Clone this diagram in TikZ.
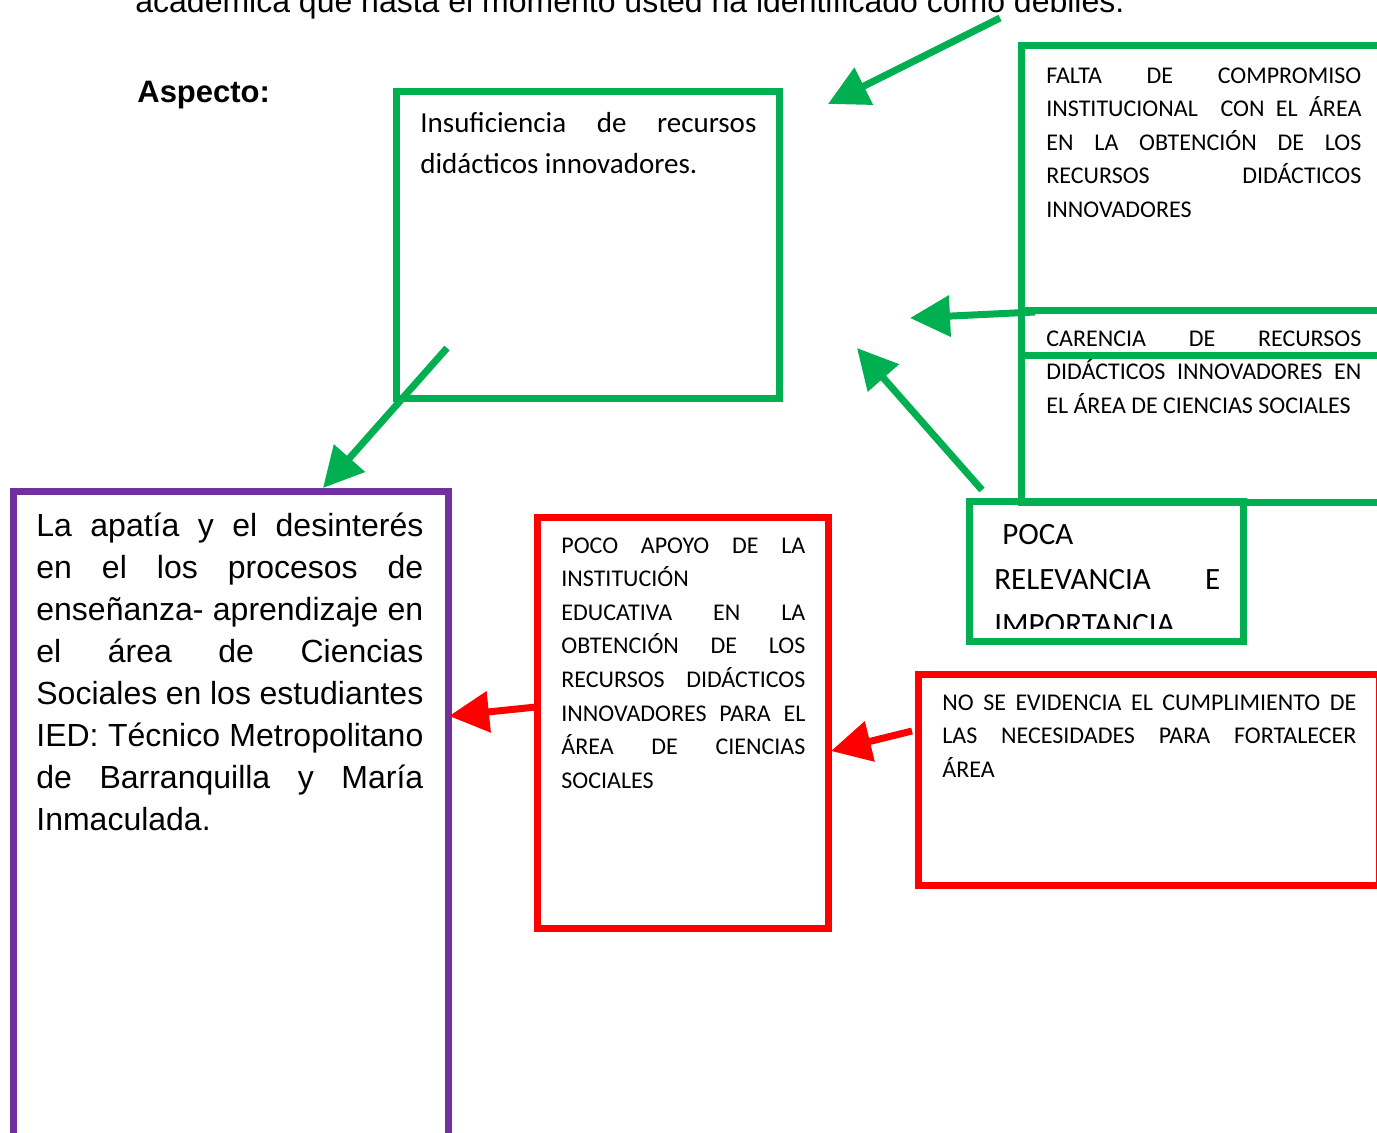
\documentclass[tikz,border=0pt]{standalone}
\usepackage{fontspec}
\setmainfont{Carlito}
\newfontfamily\arialfont{Liberation Sans}
\usetikzlibrary{arrows.meta}

\definecolor{boxgreen}{RGB}{0,176,80}
\definecolor{boxred}{RGB}{255,0,0}
\definecolor{boxpurple}{RGB}{112,48,160}

\hyphenpenalty=10000
\exhyphenpenalty=10000
\hbadness=10000

\tikzset{
  every picture/.style={line width=0.75pt},
  gbox/.style={draw=boxgreen, line width=7pt, inner sep=0pt, outer sep=0pt, anchor=north west},
  rbox/.style={draw=boxred, line width=7pt, inner sep=0pt, outer sep=0pt, anchor=north west},
  pbox/.style={draw=boxpurple, line width=7pt, inner sep=0pt, outer sep=0pt, anchor=north west},
  txt/.style={anchor=base west, inner sep=0pt},
  capstxt/.style={txt, font=\fontsize{24}{33.6}\selectfont},
  garrow/.style={draw=boxgreen, line width=7pt, -{Triangle[length=40pt,width=40pt]}},
  rarrow/.style={draw=boxred, line width=7pt, -{Triangle[length=40pt,width=40pt]}}
}

\begin{document}
\begin{tikzpicture}[x=1pt,y=1pt,yscale=-1,xscale=1]
            \useasboundingbox[line width=0pt] (0,0) rectangle (1377,1133);
            \clip (0,0) rectangle (1377,1133);

            % Text Node
            \node[txt, font=\arialfont\fontsize{32}{36}\selectfont] (pregunta) at (135,12) {académica que hasta el momento usted ha identificado como débiles.};
            % Text Node
            \node[txt, font=\arialfont\bfseries\fontsize{31}{36}\selectfont] (aspecto) at (137,102) {Aspecto:};

            %Shape: Rectangle [insuficiencia]
            \node[gbox, minimum width=383, minimum height=307] (insuf) at (396,91) {};
            %Shape: Rectangle [falta]
            \node[gbox, minimum width=370, minimum height=310] (falta) at (1021.5,45.5) {};
            %Shape: Rectangle [carencia]
            \node[gbox, minimum width=370, minimum height=192] (carencia) at (1021.5,310) {};
            %Shape: Rectangle [poca]
            \node[gbox, minimum width=274, minimum height=140] (poca) at (969,501) {};
            %Shape: Rectangle [poco apoyo]
            \node[rbox, minimum width=291, minimum height=411] (poco) at (537,517) {};
            %Shape: Rectangle [no se evidencia]
            \node[rbox, minimum width=461, minimum height=211] (nose) at (918,674) {};
            %Shape: Rectangle [apatia]
            \node[pbox, minimum width=435, minimum height=680] (apatia) at (13,491) {};

            % Text Node
            \node[txt, font=\fontsize{29}{41}\selectfont] (insuftxt) at (420,132) {\parbox[t]{336pt}{Insuficiencia de recursos\linebreak didácticos innovadores.}};
            % Text Node
            \node[capstxt] (faltatxt) at (1046,83) {\parbox[t]{315pt}{FALTA DE COMPROMISO\linebreak INSTITUCIONAL \ CON EL ÁREA\linebreak EN LA OBTENCIÓN DE LOS\linebreak RECURSOS DIDÁCTICOS\linebreak INNOVADORES}};
            % Text Node
            \node[capstxt] (carenciatxt) at (1046,346) {\parbox[t]{315pt}{CARENCIA DE RECURSOS\linebreak DIDÁCTICOS INNOVADORES EN\linebreak EL ÁREA DE CIENCIAS SOCIALES}};
            % Text Node (cut by the box)
            \begin{scope}
              \clip (972.5,504.5) rectangle (1239.5,628);
              \node[txt, font=\fontsize{31}{45}\selectfont] (pocatxt) at (994,544) {\parbox[t]{226pt}{\hspace*{8pt}POCA\\ RELEVANCIA E\linebreak IMPORTANCIA}};
            \end{scope}
            % Text Node
            \node[capstxt] (pocotxt) at (561,553) {\parbox[t]{244pt}{POCO APOYO DE LA\linebreak INSTITUCIÓN\\ EDUCATIVA EN LA\linebreak OBTENCIÓN DE LOS\linebreak RECURSOS DIDÁCTICOS\linebreak INNOVADORES PARA EL\linebreak ÁREA DE CIENCIAS\linebreak SOCIALES}};
            % Text Node
            \node[capstxt] (nosetxt) at (942,710) {\parbox[t]{414pt}{NO SE EVIDENCIA EL CUMPLIMIENTO DE\linebreak LAS NECESIDADES PARA FORTALECER\linebreak ÁREA}};
            % Text Node
            \node[txt, font=\arialfont\fontsize{32}{42}\selectfont] (apatiatxt) at (36,536) {\parbox[t]{387pt}{La apatía y el desinterés\linebreak en el los procesos de\linebreak enseñanza- aprendizaje en\linebreak el área de Ciencias\linebreak Sociales en los estudiantes\linebreak IED: Técnico Metropolitano\linebreak de Barranquilla y María\linebreak Inmaculada.}};

            % arrow ends
            \coordinate (g1s) at (1000,18);
            \coordinate (g1e) at (828,104);
            \coordinate (g2s) at (1035,312);
            \coordinate (g2e) at (910,318);
            \coordinate (g3s) at (982,490);
            \coordinate (g3e) at (857,348);
            \coordinate (g4s) at (447,348);
            \coordinate (g4e) at (323,488);
            \coordinate (r1s) at (536,707);
            \coordinate (r1e) at (449,716);
            \coordinate (r2s) at (912,731);
            \coordinate (r2e) at (831,751);

            %Straight Lines [arrows]
            \draw[garrow] (g1s) -- (g1e);
            \draw[garrow] (g2s) -- (g2e);
            \draw[garrow] (g3s) -- (g3e);
            \draw[garrow] (g4s) -- (g4e);
            \draw[rarrow] (r1s) -- (r1e);
            \draw[rarrow] (r2s) -- (r2e);

\end{tikzpicture}
\end{document}
